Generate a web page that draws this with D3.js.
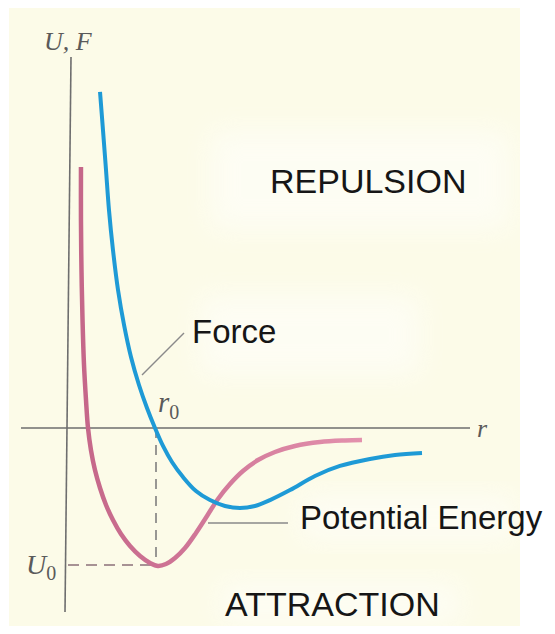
<!DOCTYPE html>
<html>
<head>
<meta charset="utf-8">
<script src="https://cdn.jsdelivr.net/npm/d3@7"></script>
<style>
  body { margin: 0; background: #fff; }
  svg { display: block; }
</style>
</head>
<body>
<div id="chart"></div>
<script>
// r in units of r0, U and F in units of |U0|
var potential_r = [0.149, 0.149, 0.155, 0.167, 0.184, 0.207, 0.230, 0.264, 0.310, 0.368, 0.437,
                   0.517, 0.609, 0.713, 0.828, 0.943, 1.034, 1.126, 1.230, 1.345, 1.471, 1.598,
                   1.724, 1.862, 2.011, 2.184, 2.379, 2.609, 2.897, 3.184, 3.379];
var potential_u = [1.905, 1.518, 1.153, 0.788, 0.460, 0.204, 0.000, -0.161, -0.307, -0.438, -0.562,
                   -0.672, -0.774, -0.861, -0.934, -0.985, -1.007, -0.993, -0.949, -0.876, -0.766, -0.642,
                   -0.518, -0.409, -0.314, -0.234, -0.175, -0.131, -0.102, -0.091, -0.088];

var force_r = [0.368, 0.402, 0.437, 0.471, 0.517, 0.575, 0.644, 0.724, 0.816, 0.908, 1.000,
               1.092, 1.195, 1.322, 1.471, 1.632, 1.805, 1.977, 2.149, 2.322, 2.552, 2.839,
               3.126, 3.471, 3.759, 4.069];
var force_f = [2.453, 2.175, 1.883, 1.591, 1.299, 1.007, 0.752, 0.518, 0.314, 0.146, 0.000,
               -0.131, -0.248, -0.358, -0.460, -0.526, -0.569, -0.584, -0.569, -0.526, -0.453, -0.350,
               -0.277, -0.226, -0.197, -0.182];

var region_labels = ["REPULSION", "ATTRACTION"];
var curve_labels = ["Force", "Potential Energy"];

var width = 555, height = 634;

var svg = d3.select("#chart").append("svg")
    .attr("width", width)
    .attr("height", height);

var x = d3.scaleLinear().domain([0, 1]).range([68, 155]);
var y = d3.scaleLinear().domain([-1, 0]).range([565, 428]);

// cream paper
svg.append("rect")
    .attr("x", 9).attr("y", 8)
    .attr("width", 511).attr("height", 618)
    .attr("fill", "#fcfbe8");

// lighter pasted patches behind the labels
var defs = svg.append("defs");
defs.append("filter").attr("id", "soft")
    .attr("x", "-30%").attr("y", "-30%").attr("width", "160%").attr("height", "160%")
    .append("feGaussianBlur").attr("stdDeviation", 14);

[[210, 130, 300, 100], [200, 295, 220, 80], [300, 495, 215, 45], [220, 582, 240, 42]].forEach(function(p) {
    svg.append("rect")
        .attr("x", p[0]).attr("y", p[1])
        .attr("width", p[2]).attr("height", p[3])
        .attr("fill", "#ffffff")
        .attr("opacity", 0.5)
        .attr("filter", "url(#soft)");
});

// axes
svg.append("line")
    .attr("x1", 71).attr("y1", 57)
    .attr("x2", 65).attr("y2", 612)
    .attr("stroke", "#6e6e6e").attr("stroke-width", 1.6);

svg.append("line")
    .attr("x1", 21).attr("y1", y(0))
    .attr("x2", 470).attr("y2", y(0))
    .attr("stroke", "#6e6e6e").attr("stroke-width", 1.6);

// dashed guides for r0 and U0
svg.append("line")
    .attr("x1", x(1) + 1).attr("y1", y(0))
    .attr("x2", x(1) + 1).attr("y2", y(-1))
    .attr("stroke", "#777").attr("stroke-width", 1.5)
    .attr("stroke-dasharray", "10,7");

svg.append("line")
    .attr("x1", 68).attr("y1", y(-1))
    .attr("x2", x(1)).attr("y2", y(-1))
    .attr("stroke", "#8a7078").attr("stroke-width", 1.5)
    .attr("stroke-dasharray", "11,7");

var line = d3.line()
    .x(function(d) { return x(d[0]); })
    .y(function(d) { return y(d[1]); })
    .curve(d3.curveCatmullRom.alpha(0.5));

var potential = potential_r.map(function(r, i) { return [r, potential_u[i]]; });
var force = force_r.map(function(r, i) { return [r, force_f[i]]; });

// potential energy curve (pink)
var grad = defs.append("linearGradient")
    .attr("id", "pinkgrad")
    .attr("gradientUnits", "userSpaceOnUse")
    .attr("x1", x(0.15)).attr("x2", x(3.4))
    .attr("y1", 0).attr("y2", 0);
grad.append("stop").attr("offset", "0%").attr("stop-color", "#c56789");
grad.append("stop").attr("offset", "40%").attr("stop-color", "#d07697");
grad.append("stop").attr("offset", "100%").attr("stop-color", "#e391ad");

svg.append("path")
    .datum(potential)
    .attr("d", line)
    .attr("fill", "none")
    .attr("stroke", "url(#pinkgrad)")
    .attr("stroke-width", 4.5);

// force curve (blue)
svg.append("path")
    .datum(force)
    .attr("d", line)
    .attr("fill", "none")
    .attr("stroke", "#1e9ad6")
    .attr("stroke-width", 4);

// leader lines
svg.append("line")
    .attr("x1", 142).attr("y1", 375)
    .attr("x2", 184).attr("y2", 333)
    .attr("stroke", "#8a8a8a").attr("stroke-width", 1.4);

svg.append("line")
    .attr("x1", 208).attr("y1", 523)
    .attr("x2", 288).attr("y2", 523)
    .attr("stroke", "#8a8a8a").attr("stroke-width", 1.4);

// sans labels
var sans = "'Liberation Sans', Arial, sans-serif";

svg.append("text")
    .attr("x", 270).attr("y", 193)
    .attr("font-family", sans).attr("font-size", 34)
    .attr("fill", "#161616")
    .text(region_labels[0]);

svg.append("text")
    .attr("x", 225).attr("y", 616)
    .attr("font-family", sans).attr("font-size", 34)
    .attr("fill", "#161616")
    .text(region_labels[1]);

svg.append("text")
    .attr("x", 192).attr("y", 343)
    .attr("font-family", sans).attr("font-size", 33)
    .attr("fill", "#161616")
    .text(curve_labels[0]);

svg.append("text")
    .attr("x", 300).attr("y", 529)
    .attr("font-family", sans).attr("font-size", 33)
    .attr("fill", "#161616")
    .text(curve_labels[1]);

// serif italic axis symbols
var serif = "'Liberation Serif', 'Times New Roman', serif";

svg.append("text")
    .attr("x", 44).attr("y", 50)
    .attr("font-family", serif).attr("font-style", "italic")
    .attr("font-size", 26).attr("fill", "#5a5a5a")
    .text("U, F");

svg.append("text")
    .attr("x", 477).attr("y", 437)
    .attr("font-family", serif).attr("font-style", "italic")
    .attr("font-size", 26).attr("fill", "#5a5a5a")
    .text("r");

var r0 = svg.append("text")
    .attr("x", 158).attr("y", 412)
    .attr("font-family", serif).attr("font-style", "italic")
    .attr("font-size", 29).attr("fill", "#5a5a5a");
r0.append("tspan").text("r");
r0.append("tspan").attr("dy", 7).attr("font-size", 20).attr("font-style", "normal").text("0");

var u0 = svg.append("text")
    .attr("x", 26).attr("y", 574)
    .attr("font-family", serif).attr("font-style", "italic")
    .attr("font-size", 28).attr("fill", "#5a5a5a");
u0.append("tspan").text("U");
u0.append("tspan").attr("dy", 6).attr("font-size", 20).attr("font-style", "normal").text("0");
</script>
</body>
</html>
